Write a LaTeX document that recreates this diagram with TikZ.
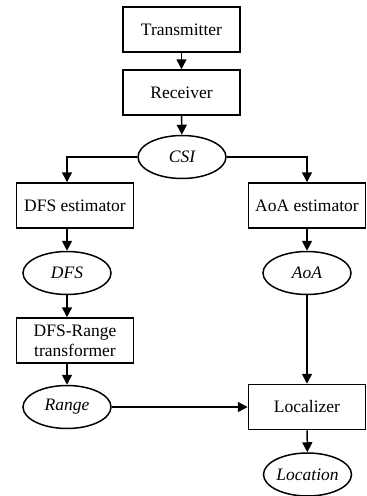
\documentclass[tikz,border=0pt]{standalone}
\usepackage{fontspec}
\setmainfont{Liberation Serif}
\usetikzlibrary{arrows.meta,shapes.geometric}
\begin{document}
\begin{tikzpicture}[x=1pt,y=-1pt,
  font=\fontsize{17.5}{20}\selectfont,
  stage/.style={draw,line width=1.5pt,rectangle,minimum width=117pt,minimum height=45pt,inner sep=0pt,align=center},
  datum/.style={draw,line width=1.5pt,ellipse,minimum width=88pt,minimum height=43pt,inner sep=0pt,font=\fontsize{17.5}{20}\selectfont\itshape},
  flow/.style={line width=1.5pt,-{Triangle[length=10pt,width=10pt]}}]
\useasboundingbox (0,0) rectangle (367,496);
% processing stages
\node[stage] (tx)     at (181.5,29.5)  {Transmitter};
\node[stage] (rx)     at (181.5,92.5)  {Receiver};
\node[datum] (csi)    at (182,157)     {CSI};
\node[stage] (dfsest) at (75,205.5)    {DFS estimator};
\node[stage] (aoaest) at (307,205.5)   {AoA estimator};
\node[datum] (dfs)    at (67,273)      {DFS};
\node[datum] (aoa)    at (307,273)     {AoA};
\node[stage] (trans)  at (75,340.5)    {DFS-Range\\transformer};
\node[datum] (range)  at (67,407)      {Range};
\node[stage] (loc)    at (307,407)     {Localizer};
\node[datum] (pos)    at (307.5,474.5) {Location};
% connectors
\draw[flow] (tx) -- (rx);
\draw[flow] (rx) -- (csi);
\draw[flow] (csi.west) -| (dfs.north |- dfsest.north);
\draw[flow] (csi.east) -| (aoaest.north);
\draw[flow] (dfs.north |- dfsest.south) -- (dfs.north);
\draw[flow] (aoaest) -- (aoa);
\draw[flow] (dfs.south) -- (dfs.south |- trans.north);
\draw[flow] (range.north |- trans.south) -- (range.north);
\draw[flow] (aoa) -- (loc);
\draw[flow] (range) -- (loc);
\draw[flow] (loc) -- (pos);
\end{tikzpicture}
\end{document}
